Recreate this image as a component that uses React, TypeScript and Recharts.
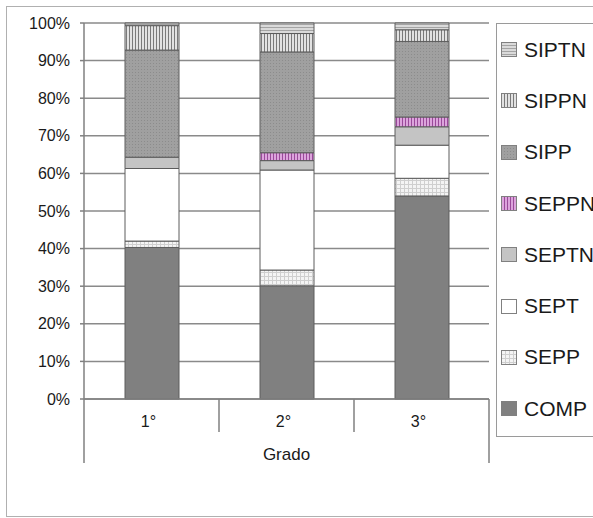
import React from 'react';
import { BarChart, Bar, XAxis, YAxis, CartesianGrid, Legend } from 'recharts';

const grados = ['1°', '2°', '3°'];

// stacked percentages per grado, bottom to top
const comp = [40.3, 30.1, 54.0];
const sepp = [1.7, 4.2, 4.7];
const sept = [19.3, 26.6, 8.8];
const septn = [3.0, 2.5, 4.9];
const seppn = [0.0, 2.1, 2.6];
const sipp = [28.5, 26.8, 20.1];
const sippn = [6.5, 4.9, 3.1];
const siptn = [0.7, 2.8, 1.8];

const yTicks = [0, 10, 20, 30, 40, 50, 60, 70, 80, 90, 100];

const FONT = 'Arial, "Liberation Sans", sans-serif';

const SERIES = [
  { key: 'COMP', values: comp, fill: '#808080' },
  { key: 'SEPP', values: sepp, fill: 'url(#p-sepp)' },
  { key: 'SEPT', values: sept, fill: '#ffffff' },
  { key: 'SEPTN', values: septn, fill: '#c4c4c4' },
  { key: 'SEPPN', values: seppn, fill: 'url(#p-seppn)' },
  { key: 'SIPP', values: sipp, fill: 'url(#p-sipp)' },
  { key: 'SIPPN', values: sippn, fill: 'url(#p-sippn)' },
  { key: 'SIPTN', values: siptn, fill: 'url(#p-siptn)' },
];

const data = grados.map((g, i) => {
  const row: Record<string, string | number> = { grado: g };
  SERIES.forEach(s => {
    row[s.key] = s.values[i];
  });
  return row;
});

function Patterns() {
  return (
    <svg width={0} height={0} style={{ position: 'absolute' }}>
      <defs>
        <pattern id="p-sepp" width="4" height="4" patternUnits="userSpaceOnUse">
          <rect width="4" height="4" fill="#f4f4f4" />
          <rect width="1" height="4" fill="#cfcfcf" />
          <rect width="4" height="1" fill="#cfcfcf" />
        </pattern>
        <pattern id="p-seppn" width="3" height="3" patternUnits="userSpaceOnUse">
          <rect width="3" height="3" fill="#dca4dc" />
          <rect width="1" height="3" fill="#9a4a9a" />
        </pattern>
        <pattern id="p-sipp" width="3" height="3" patternUnits="userSpaceOnUse">
          <rect width="3" height="3" fill="#a0a0a0" />
          <rect width="1" height="1" fill="#8c8c8c" />
        </pattern>
        <pattern id="p-sippn" width="3" height="3" patternUnits="userSpaceOnUse">
          <rect width="3" height="3" fill="#e2e2e2" />
          <rect width="1" height="3" fill="#7a7a7a" />
        </pattern>
        <pattern id="p-siptn" width="3" height="3" patternUnits="userSpaceOnUse">
          <rect width="3" height="3" fill="#dadada" />
          <rect width="3" height="1" fill="#a4a4a4" />
        </pattern>
      </defs>
    </svg>
  );
}

// category labels plus the separator lines of the grouped axis
function GradoTick(props: any) {
  const { x, y, payload, width, visibleTicksCount } = props;
  const half = payload.offset || width / visibleTicksCount / 2;
  const last = payload.index === visibleTicksCount - 1;
  return (
    <g>
      <line
        x1={x - half}
        x2={x - half}
        y1={y}
        y2={payload.index === 0 ? y + 64 : y + 33}
        stroke="#808080"
        strokeWidth={1.5}
      />
      {last && <line x1={x + half} x2={x + half} y1={y} y2={y + 64} stroke="#808080" strokeWidth={1.5} />}
      <text x={x - 3} y={y + 28} textAnchor="middle" fill="#1a1a1a" fontSize={16} fontFamily={FONT}>
        {payload.value}
      </text>
    </g>
  );
}

// legend lists the series top to bottom in stack order
function LegendBox() {
  const items = [...SERIES].reverse();
  return (
    <div
      style={{
        boxSizing: 'border-box',
        width: 150,
        height: 414,
        border: '1.5px solid #9a9a9a',
        background: '#fff',
        fontFamily: FONT,
        fontSize: 21,
        color: '#1a1a1a',
      }}
    >
      {items.map(it => (
        <div key={it.key} style={{ height: 51.3, display: 'flex', alignItems: 'center' }}>
          <svg width={16} height={15} style={{ marginLeft: 4, marginRight: 7 }}>
            <rect x={0.5} y={0.5} width={15} height={14} fill={it.fill} stroke="#808080" />
          </svg>
          <span>{it.key}</span>
        </div>
      ))}
    </div>
  );
}

export default function App() {
  return (
    <div style={{ position: 'absolute', left: 0, top: 0, width: 593, height: 518, overflow: 'hidden', background: '#fff' }}>
      <Patterns />
      <div
        style={{
          position: 'absolute',
          left: 6,
          top: 6,
          width: 700,
          height: 509,
          border: '1.5px solid #b0b0b0',
        }}
      />
      <div style={{ position: 'absolute', left: 0, top: 0 }}>
        <BarChart width={600} height={518} data={data} margin={{ top: 23, right: 111, bottom: 55, left: 0 }}>
          <CartesianGrid vertical={false} stroke="#8a8a8a" strokeWidth={1.5} />
          <XAxis
            dataKey="grado"
            height={64}
            tickSize={0}
            tickMargin={0}
            axisLine={{ stroke: '#808080', strokeWidth: 1.5 }}
            tick={<GradoTick />}
            interval={0}
            label={{ value: 'Grado', position: 'insideBottom', offset: 3, fill: '#1a1a1a', fontSize: 17, fontFamily: FONT }}
          />
          <YAxis
            width={84}
            domain={[0, 100]}
            ticks={yTicks}
            tickFormatter={v => `${v}%`}
            tickSize={4}
            tickMargin={10}
            tickLine={{ stroke: '#808080', strokeWidth: 1.5 }}
            axisLine={{ stroke: '#808080', strokeWidth: 1.5 }}
            tick={{ fill: '#1a1a1a', fontSize: 16, fontFamily: FONT }}
          />
          <YAxis
            yAxisId="right"
            orientation="right"
            width={0}
            tick={false}
            tickLine={false}
            axisLine={{ stroke: '#808080', strokeWidth: 1.5 }}
          />
          <Legend
            layout="vertical"
            align="center"
            verticalAlign="middle"
            wrapperStyle={{ left: 496, top: 23, width: 150, height: 414 }}
            content={<LegendBox />}
          />
          {SERIES.map(s => (
            <Bar
              key={s.key}
              dataKey={s.key}
              name={s.key}
              stackId="a"
              fill={s.fill}
              stroke="#5c5c5c"
              strokeWidth={1}
              barSize={54}
              isAnimationActive={false}
            />
          ))}
        </BarChart>
      </div>
    </div>
  );
}
